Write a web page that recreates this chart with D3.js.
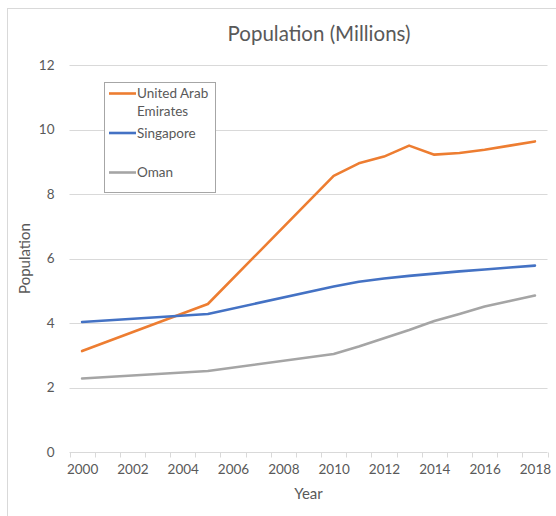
<!DOCTYPE html>
<html>
<head>
<meta charset="utf-8">
<script src="https://cdn.jsdelivr.net/npm/d3@7"></script>
<style>
  html, body { margin: 0; padding: 0; background: #fff; }
  svg { display: block; font-family: Lato, "Open Sans", sans-serif; }
</style>
</head>
<body>
<svg id="chart" width="556" height="516"></svg>
<script>
// Population (millions), by year
const years = [2000, 2005, 2010, 2011, 2012, 2013, 2014, 2015, 2016, 2017, 2018];
const uae = [3.13, 4.59, 8.56, 8.95, 9.16, 9.50, 9.22, 9.27, 9.37, 9.50, 9.63];
const singapore = [4.03, 4.28, 5.13, 5.28, 5.38, 5.46, 5.53, 5.60, 5.66, 5.72, 5.78];
const oman = [2.28, 2.51, 3.04, 3.27, 3.53, 3.78, 4.06, 4.28, 4.51, 4.68, 4.85];
const seriesNames = ["United Arab Emirates", "Singapore", "Oman"];
const seriesColors = ["#ED7D31", "#4472C4", "#A5A5A5"];
const yTicks = [0, 2, 4, 6, 8, 10, 12];
const xLabels = [2000, 2002, 2004, 2006, 2008, 2010, 2012, 2014, 2016, 2018];

const series = [uae, singapore, oman].map((vals, i) => ({
  name: seriesNames[i],
  color: seriesColors[i],
  points: years.map((y, j) => ({ year: y, value: vals[j] }))
}));

const svg = d3.select("#chart");
const plot = { left: 69.5, right: 547.5, top: 65, bottom: 452 };

// outer chart frame
svg.append("rect")
  .attr("x", 7.5).attr("y", 8.5)
  .attr("width", 600).attr("height", 600)
  .attr("fill", "#fff").attr("stroke", "#d9d9d9").attr("stroke-width", 1);

// years sit between tick marks, so the domain runs half a year past each end
const x = d3.scaleLinear().domain([1999.5, 2018.5]).range([plot.left, plot.right]);
const y = d3.scaleLinear().domain([0, 12]).range([plot.bottom, plot.top]);

// horizontal gridlines
svg.append("g")
  .selectAll("line")
  .data(yTicks.filter(t => t > 0))
  .join("line")
  .attr("x1", plot.left).attr("x2", plot.right)
  .attr("y1", d => Math.round(y(d)) + 0.5).attr("y2", d => Math.round(y(d)) + 0.5)
  .attr("stroke", "#d9d9d9").attr("stroke-width", 1);

// y axis labels
const yAxis = d3.axisLeft(y).tickValues(yTicks).tickSize(0).tickPadding(0);
const gy = svg.append("g").attr("transform", `translate(${plot.left - 15},0)`).call(yAxis);
gy.select(".domain").remove();
gy.selectAll("text")
  .attr("fill", "#595959").style("font-size", "13.5px").style("font-family", "Lato, 'Open Sans', sans-serif");

// x axis: tick marks every year at the boundaries, labels every second year
const tickYears = d3.range(1999.5, 2019, 1);
const gx = svg.append("g").attr("transform", `translate(0,${Math.round(plot.bottom) + 0.5})`);
gx.append("line")
  .attr("x1", plot.left).attr("x2", plot.right)
  .attr("stroke", "#d9d9d9").attr("stroke-width", 1);
gx.selectAll("line.tick")
  .data(tickYears)
  .join("line")
  .attr("class", "tick")
  .attr("x1", d => Math.round(x(d)) + 0.5).attr("x2", d => Math.round(x(d)) + 0.5)
  .attr("y1", 0).attr("y2", 5)
  .attr("stroke", "#d9d9d9").attr("stroke-width", 1);
const xAxis = d3.axisBottom(x).tickValues(xLabels).tickFormat(d3.format("d")).tickSize(0).tickPadding(0);
const gxl = svg.append("g").attr("transform", `translate(0,${plot.bottom + 12})`).call(xAxis);
gxl.select(".domain").remove();
gxl.selectAll("text")
  .attr("fill", "#595959").style("font-size", "13.5px").style("font-family", "Lato, 'Open Sans', sans-serif");

// series lines
const line = d3.line().x(d => x(d.year)).y(d => y(d.value));
svg.append("g")
  .selectAll("path")
  .data(series)
  .join("path")
  .attr("d", d => line(d.points))
  .attr("fill", "none")
  .attr("stroke", d => d.color)
  .attr("stroke-width", 2.6)
  .attr("stroke-linejoin", "round")
  .attr("stroke-linecap", "round");

// title and axis titles
svg.append("text")
  .attr("x", 319).attr("y", 41)
  .attr("text-anchor", "middle")
  .attr("fill", "#595959").style("font-size", "20.5px")
  .text("Population (Millions)");
svg.append("text")
  .attr("transform", `translate(30,${(plot.top + plot.bottom) / 2}) rotate(-90)`)
  .attr("text-anchor", "middle")
  .attr("fill", "#595959").style("font-size", "15px")
  .text("Population");
svg.append("text")
  .attr("x", (plot.left + plot.right) / 2).attr("y", 499)
  .attr("text-anchor", "middle")
  .attr("fill", "#595959").style("font-size", "15px")
  .text("Year");

// legend
const legend = svg.append("g");
legend.append("rect")
  .attr("x", 104.5).attr("y", 82.5).attr("width", 111).attr("height", 110)
  .attr("fill", "#fff").attr("stroke", "#a6a6a6").attr("stroke-width", 1);
const legendRows = [
  { lineY: 93.5, lines: ["United Arab", "Emirates"] },
  { lineY: 133, lines: ["Singapore"] },
  { lineY: 172.5, lines: ["Oman"] }
];
legendRows.forEach((row, i) => {
  legend.append("line")
    .attr("x1", 109).attr("x2", 136)
    .attr("y1", row.lineY).attr("y2", row.lineY)
    .attr("stroke", series[i].color).attr("stroke-width", 2.6);
  const t = legend.append("text")
    .attr("x", 137).attr("y", row.lineY + 4.8)
    .attr("fill", "#595959").style("font-size", "13.5px");
  row.lines.forEach((s, k) => {
    t.append("tspan").attr("x", 137).attr("dy", k === 0 ? 0 : 17.5).text(s);
  });
});
</script>
</body>
</html>
